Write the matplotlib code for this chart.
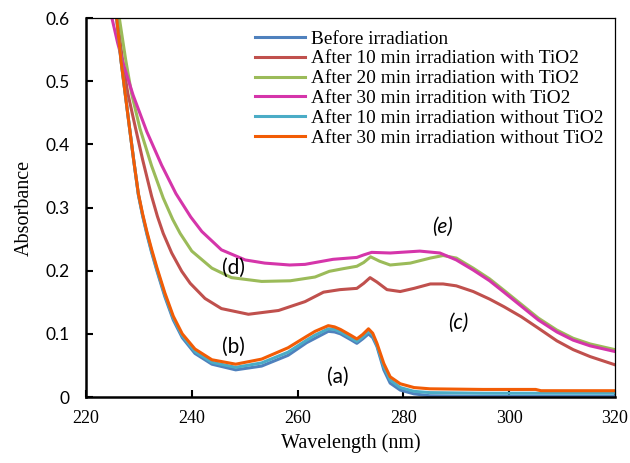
import matplotlib
matplotlib.use("Agg")
import matplotlib.pyplot as plt

# wavelength (nm) / absorbance
wl_orange = [225.8, 226.6, 227.4, 228.2, 229.0, 229.9, 230.7, 231.5, 232.4, 233.4, 234.9, 236.5, 238.2,
             240.6, 243.8, 248.3, 253.2, 258.2, 261.7, 263.3, 265.8, 267.0, 268.1, 270.0, 271.2, 272.3,
             273.4, 274.2, 275.0, 276.3, 277.5, 279.4, 282.0, 285.0, 295.0, 305.0, 306.0, 320.0]
ab_orange = [0.60, 0.534, 0.481, 0.428, 0.376, 0.322, 0.290, 0.262, 0.234, 0.205, 0.165, 0.128, 0.100,
             0.076, 0.059, 0.052, 0.060, 0.078, 0.096, 0.104, 0.113, 0.111, 0.107, 0.098, 0.092, 0.099,
             0.108, 0.101, 0.085, 0.053, 0.032, 0.021, 0.015, 0.013, 0.012, 0.012, 0.010, 0.010]

wl_blue = wl_orange
ab_blue = [0.60, 0.534, 0.481, 0.428, 0.376, 0.320, 0.287, 0.258, 0.229, 0.200, 0.159, 0.122, 0.094,
           0.069, 0.052, 0.043, 0.049, 0.066, 0.086, 0.093, 0.104, 0.103, 0.100, 0.091, 0.085, 0.092,
           0.100, 0.094, 0.080, 0.043, 0.022, 0.011, 0.005, 0.002, 0.001, 0.001, 0.001, 0.001]

wl_cyan = wl_orange
ab_cyan = [0.60, 0.534, 0.481, 0.428, 0.376, 0.321, 0.288, 0.260, 0.231, 0.202, 0.162, 0.125, 0.097,
           0.072, 0.055, 0.047, 0.054, 0.071, 0.090, 0.098, 0.108, 0.107, 0.103, 0.094, 0.088, 0.095,
           0.104, 0.098, 0.082, 0.048, 0.027, 0.015, 0.009, 0.007, 0.006, 0.006, 0.006, 0.006]

wl_red = [225.9, 226.9, 227.9, 229.3, 230.7, 232.4, 233.5, 234.6, 236.2, 238.1, 239.7, 242.5, 245.6,
          250.7, 256.4, 261.4, 264.9, 268.0, 271.2, 272.5, 273.7, 275.0, 276.9, 279.4, 282.0, 285.1,
          287.5, 290.0, 293.2, 296.3, 299.0, 302.3, 305.5, 309.0, 312.1, 315.3, 320.0]
ab_red = [0.60, 0.534, 0.481, 0.428, 0.376, 0.318, 0.286, 0.259, 0.228, 0.199, 0.180, 0.156, 0.140,
          0.131, 0.137, 0.151, 0.166, 0.170, 0.172, 0.180, 0.189, 0.182, 0.170, 0.167, 0.172, 0.179,
          0.179, 0.176, 0.167, 0.155, 0.143, 0.127, 0.109, 0.089, 0.075, 0.064, 0.051]

wl_green = [226.3, 227.5, 228.6, 230.2, 232.4, 234.6, 236.4, 237.8, 240.0, 243.8, 247.5, 253.2, 258.6,
            263.3, 266.0, 268.5, 271.2, 272.5, 273.8, 275.5, 277.5, 281.3, 285.1, 287.5, 290.0, 293.2,
            296.3, 299.0, 302.4, 305.5, 309.0, 312.1, 315.3, 320.0]
ab_green = [0.60, 0.534, 0.481, 0.425, 0.366, 0.315, 0.281, 0.259, 0.231, 0.204, 0.189, 0.183, 0.184,
            0.190, 0.199, 0.203, 0.207, 0.213, 0.222, 0.215, 0.209, 0.212, 0.220, 0.224, 0.220, 0.204,
            0.187, 0.169, 0.146, 0.125, 0.106, 0.093, 0.084, 0.075]

wl_mag = [224.9, 226.0, 227.1, 228.9, 231.5, 234.3, 237.0, 239.8, 241.9, 245.6, 250.1, 253.8, 258.5,
          261.4, 266.7, 271.2, 272.5, 274.0, 277.5, 283.1, 286.9, 290.0, 293.2, 296.3, 299.0, 302.4,
          305.5, 309.0, 312.1, 315.3, 320.0]
ab_mag = [0.60, 0.56, 0.526, 0.478, 0.420, 0.367, 0.322, 0.285, 0.262, 0.233, 0.217, 0.212, 0.209,
          0.210, 0.218, 0.221, 0.225, 0.229, 0.228, 0.231, 0.228, 0.217, 0.201, 0.184, 0.166, 0.143,
          0.122, 0.103, 0.090, 0.081, 0.072]

series = [
    (wl_blue, ab_blue, "#4F81BD", "Before irradiation"),
    (wl_red, ab_red, "#C0504D", "After 10 min irradiation with TiO2"),
    (wl_green, ab_green, "#9BBB59", "After 20 min irradiation with TiO2"),
    (wl_mag, ab_mag, "#D535AA", "After 30 min irradition with TiO2"),
    (wl_cyan, ab_cyan, "#4BACC6", "After 10 min irradiation without TiO2"),
    (wl_orange, ab_orange, "#F25C05", "After 30 min irradiation without TiO2"),
]

labels = ["(a)", "(b)", "(c)", "(d)", "(e)"]
label_x = [267.6, 247.8, 290.3, 247.8, 287.3]
label_y = [0.032, 0.079, 0.117, 0.205, 0.269]
label_italic = [False, False, True, False, True]

x_ticks = [220, 240, 260, 280, 300, 320]
y_ticks = [0, 0.1, 0.2, 0.3, 0.4, 0.5, 0.6]
y_ticklabels = ["0", "0.1", "0.2", "0.3", "0.4", "0.5", "0.6"]

fig = plt.figure(figsize=(6.3, 4.63), dpi=100)
ax = fig.add_axes([0.1365, 0.1425, 0.8397, 0.8186])

for x, y, c, name in series:
    ax.plot(x, y, color=c, lw=2.2, label=name, solid_joinstyle="round")

for t, lx, ly, it in zip(labels, label_x, label_y, label_italic):
    ax.text(lx, ly, t, ha="center", va="center", fontsize=15, family="Lato",
            style="italic" if it else "normal")

ax.set_xlim(220, 320)
ax.set_ylim(0, 0.6)
ax.set_xticks(x_ticks)
ax.set_yticks(y_ticks)
ax.set_yticklabels(y_ticklabels, family="Lato", fontsize=12.5)
ax.set_xticklabels([str(v) for v in x_ticks], family="Liberation Serif", fontsize=13)
ax.tick_params(direction="in", length=5, width=1.5)
ax.tick_params(axis="y", pad=12)
ax.tick_params(axis="x", pad=9)

for s in ["left", "bottom"]:
    ax.spines[s].set_linewidth(1.8)
for s in ["top", "right"]:
    ax.spines[s].set_linewidth(0.9)

ax.set_xlabel("Wavelength (nm)", family="Liberation Serif", fontsize=14.5, labelpad=5)
ax.set_ylabel("Absorbance", family="Liberation Serif", fontsize=14.5, labelpad=8)

leg = ax.legend(loc="upper left", bbox_to_anchor=(0.3195, 0.968), frameon=False,
                prop={"family": "Liberation Serif", "size": 13.9},
                borderaxespad=0, borderpad=0, labelspacing=0.12,
                handlelength=2.6, handletextpad=0.3)
for h in leg.get_lines():
    h.set_linewidth(2.2)

fig.savefig("out.png", dpi=100)
